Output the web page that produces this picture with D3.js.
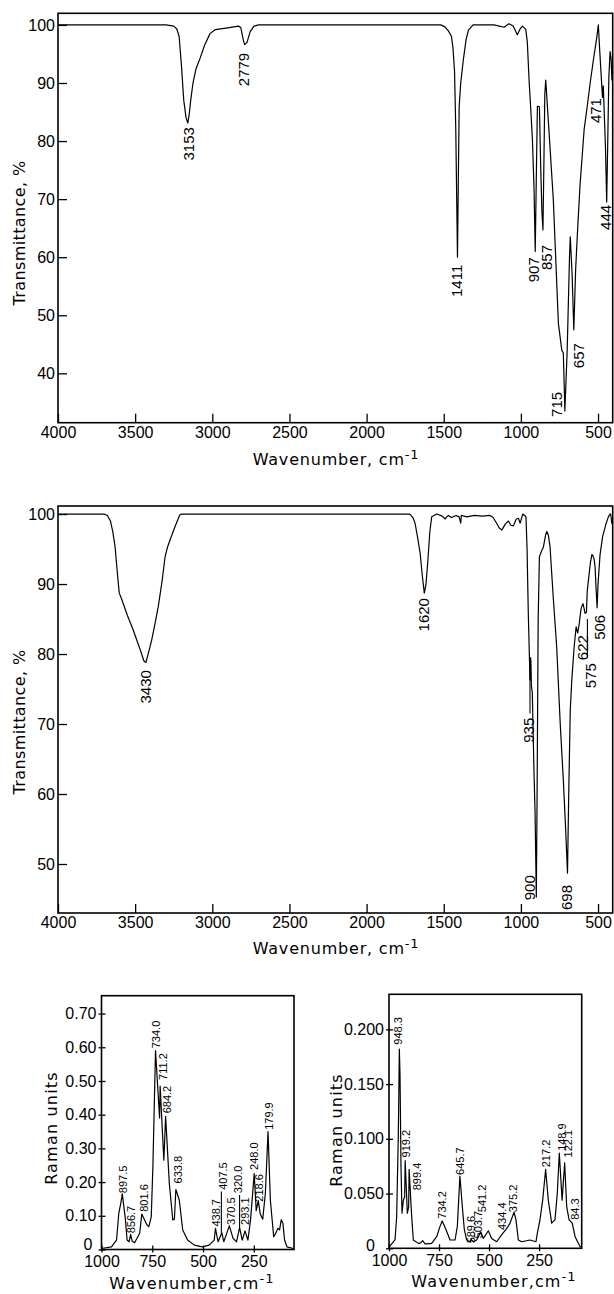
<!DOCTYPE html>
<html><head><meta charset="utf-8">
<script src="https://cdn.jsdelivr.net/npm/d3@7"></script>
<style>body{margin:0;background:#fff}</style>
</head><body>
<script>
// ---------- IR spectrum 1 ----------
const ir1Wn = [4000,3300,3250,3230,3215,3200,3185,3170,3159,3150,3140,3125,3105,3080,3050,3015,2980,2900,2830,2815,2800,2790,2775,2755,2730,2700,
  1520,1495,1470,1450,1440,1430,1422,1416,1411,1406,1400,1390,1373,1355,1340,1310,
  1174,1140,1109,1077,1050,1023,1005,990,975,968,958,947,935,925,915,907,900,893,880,872,864,857,850,845,839,
  790,757,735,725,715,700,685,680,668,657,645,630,616,590,570,551,530,510,498,
  490,478,471,466,460,452,444,437,430,422,415,410,405];
const ir1T = [100,100,99.8,99.3,98,93,87,84,83.1,84.5,87,90,92.5,94.2,96.5,98.5,99.2,99.5,99.8,99.5,97.5,96.6,97,98.8,99.8,100,
  100,99.7,99,98,96,92,82,70,60,72,85.9,90,94,97.5,99.1,100,
  100,99.8,99.6,100.2,99.8,98.3,99.3,99.8,99.4,99.2,96.9,90.5,85,80,72,61,74,86,85.9,76,68,64.7,78,88,90.5,
  70,48.6,44,43.5,33.5,44,60,63.5,57,47.5,58,66,72.7,82,86,90,94,97.5,100,
  96,90.5,87.5,89.5,85,79,69.5,80,91,95.4,94,90.5,92];
const ir1LabelText = ["3153","2779","1411","907","857","715","657","471","444"];
const ir1LabelWn   = [3153,2795,1416,919,832,767,627,513,448];
const ir1LabelTop  = [82.4,95.2,58.7,60.0,62.1,36.8,45.2,87.4,69.0];
const irXTicks = [4000,3500,3000,2500,2000,1500,1000,500];
const ir1YTicks = [40,50,60,70,80,90,100];

// ---------- IR spectrum 2 ----------
const ir2Wn = [4000,3700,3680,3660,3645,3630,3615,3603,3590,3550,3512,3470,3443,3430,3410,3393,3370,3350,3325,3306,3290,3274,3240,3210,3200,
  1720,1700,1686,1668,1653,1638,1626,1615,1604,1590,1578,1545,1510,1490,1481,1470,1450,1420,1400,1390,1386,1350,1300,1250,1200,
  1180,1160,1140,1124,1100,1081,1065,1049,1030,1016,1005,988,975,967,960,952,941,937,935,932,926,915,908,900,
  895,888,880,865,854,840,832,822,811,790,768,745,725,710,698,690,680,670,655,642,632,622,610,598,590,584,575,570,562,550,540,534,525,519,512,506,500,487,470,450,433,422,418,411,405];
const ir2T = [100,100,99.8,99,97.5,95.3,91.5,88.7,88,85.5,83.4,80.8,79,78.8,80.5,82,84.5,86.8,90.5,93.9,95.3,96.3,98.3,99.9,100,
  100,99.5,98.7,96.5,94.4,91,88.7,90,93,97.5,99.6,100,99.7,99.3,99.6,99.8,99.5,99.8,99.6,98.7,99.8,99.6,99.8,99.7,99.8,
  99.5,98.8,98,97.7,98.6,99,98.4,98.3,99.3,99.4,98.7,100,99.8,99.6,95,85.8,76.3,79.5,79,75.5,74.4,63,57.2,45.3,
  60,85,93.9,94.8,95.3,97,97.5,97,95.3,88,81,70,62,55,48.7,60,72,76.3,81,83.9,83,84.3,86.5,87.2,86.5,85.8,86,89,90.6,93,94.2,94.1,93.5,92.4,89,86.6,90,94.2,96.8,98.5,99.6,100,100,98.7,99];
const ir2LabelText = ["3430","1620","935","900","698","622","575","506"];
const ir2LabelWn   = [3430,1632,952,941,703,599,551,491];
const ir2LabelTop  = [77.7,88.0,70.9,48.4,47.0,82.7,78.7,85.6];
const ir2LeaderWn = [941,569];
const ir2LeaderFrom = [79,85];
const ir2LeaderTo = [71.5,79.5];
const ir2YTicks = [50,60,70,80,90,100];

// ---------- Raman spectrum A ----------
const ramAWn = [1000,951,926,915,905,897.5,882,874,864,856.7,849,837,812,801.6,776,767,755,747,734.0,714,711.2,693,684.2,666,649,641,633.8,617,600,576,543,503,470,445,438.7,426,407.5,398,385,370.5,352,335,320,307,293.1,279,266,248,238,228,218,206,193,179.9,168.5,152,142,131,123,115,106.6,98.4,87,55];
const ramAVal = [0.003,0.008,0.028,0.107,0.137,0.165,0.088,0.028,0.023,0.045,0.025,0.02,0.048,0.105,0.073,0.068,0.097,0.245,0.59,0.39,0.485,0.265,0.395,0.196,0.088,0.09,0.178,0.147,0.058,0.028,0.013,0.008,0.013,0.028,0.063,0.023,0.05,0.023,0.045,0.07,0.033,0.023,0.065,0.028,0.055,0.028,0.088,0.225,0.115,0.145,0.105,0.09,0.167,0.35,0.147,0.038,0.048,0.063,0.058,0.088,0.078,0.028,0.008,0.003];
const ramALabelText = ["897.5","856.7","801.6","734.0","711.2","684.2","633.8","438.7","407.5","370.5","320.0","293.1","248.0","218.6","179.9"];
const ramALabelWn   = [893.7,853,791,730.7,698,678.6,624.8,437.4,400,364,328,290.7,246.7,223.9,176.6];
const ramALabelBase = [0.167,0.048,0.112,0.597,0.503,0.404,0.196,0.068,0.177,0.073,0.167,0.073,0.236,0.142,0.355];
const ramALeaderWn = [409.7,320];
const ramALeaderFrom = [0.05,0.065];
const ramALeaderTo = [0.172,0.162];
const ramXTicks = [1000,750,500,250];
const ramAYTicks = [0,0.1,0.2,0.3,0.4,0.5,0.6,0.7];

// ---------- Raman spectrum B ----------
const ramBWn = [1000,970,961.6,953.3,948.3,945,940,935,928.3,921.7,919.2,908.3,901.7,899.4,886.7,878.4,853.4,841.7,832,820,811.7,786.8,761.8,745,734.2,715,695,670,658.5,645.7,633.5,623.5,611.9,595,589.6,578.6,562,541.2,528.6,503.7,487,462,434.4,412,395,375.2,365.4,353.7,337,295.5,265.5,258.8,245.6,232,217.2,203.9,187,170.5,159,148.9,135,122.1,112,100,84.3,70,45,37];
const ramBVal = [0.001,0.0076,0.029,0.105,0.182,0.159,0.074,0.032,0.044,0.047,0.08,0.032,0.038,0.072,0.029,0.0076,0.0045,0.005,0.007,0.004,0.004,0.0045,0.0106,0.02,0.025,0.017,0.0076,0.0076,0.02,0.066,0.038,0.017,0.0076,0.006,0.008,0.006,0.0076,0.015,0.009,0.016,0.009,0.006,0.013,0.018,0.023,0.033,0.026,0.0076,0.006,0.0076,0.006,0.0136,0.026,0.044,0.072,0.044,0.023,0.026,0.05,0.087,0.044,0.078,0.038,0.026,0.023,0.0106,0.0015,0.001];
const ramBLabelText = ["948.3","919.2","899.4","734.2","645.7","589.6","541.2","503.7","434.4","375.2","217.2","148.9","122.1","84.3"];
const ramBLabelWn   = [953.3,915,861.7,733.5,645,592,533.6,557,437,378.7,217.2,137.3,104,70.6];
const ramBLabelBase = [0.186,0.083,0.053,0.027,0.067,0.0045,0.033,0.009,0.0167,0.033,0.074,0.089,0.083,0.026];
const ramBYTicks = [0,0.05,0.1,0.15,0.2];

// ---------- drawing ----------
const NARROW = "'Liberation Sans Narrow', 'Liberation Sans', Arial, sans-serif";
const TITLE = "'DejaVu Sans', sans-serif";
const svg = d3.select("body").append("svg").attr("width",614).attr("height",1294)
  .style("font-family",NARROW);

function panel(o){
  const g = svg.append("g");
  const x = d3.scaleLinear().domain(o.xDomain).range(o.xRange);
  const y = d3.scaleLinear().domain(o.yDomain).range(o.yRange);
  const ax = d3.axisBottom(x).tickValues(o.xTicks).tickSizeInner(-o.tick).tickSizeOuter(0).tickPadding(o.xPad).tickFormat(d3.format("d"));
  const gx = g.append("g").attr("transform",`translate(0,${o.yRange[0]})`).call(ax);
  gx.select(".domain").remove();
  const ay = d3.axisLeft(y).tickValues(o.yTicks).tickSizeInner(-o.tick).tickSizeOuter(0).tickPadding(o.yPad).tickFormat(o.yFmt);
  const gy = g.append("g").attr("transform",`translate(${o.xRange[0]},0)`).call(ay);
  gy.select(".domain").remove();
  if(o.tickOut){
    gx.selectAll(".tick line").attr("y1",o.tickOut);
    gy.selectAll(".tick line").attr("x1",-o.tickOut);
  }
  [gx,gy].forEach(s=>{
    s.selectAll("line").attr("stroke","#000").attr("stroke-width",1.3);
    s.selectAll("text").attr("font-family",NARROW).attr("font-size",o.tickFont).attr("fill","#000");
  });
  if(o.zeroDx!==undefined){
    gy.selectAll(".tick").filter(d=>d===0).select("text")
      .attr("x",-o.yPad-o.zeroDx).attr("dy",(0.32*o.tickFont-o.zeroDy)+"px");
  }
  g.append("rect").attr("x",o.xRange[0]).attr("y",o.yRange[1])
    .attr("width",o.xRange[1]-o.xRange[0]).attr("height",o.yRange[0]-o.yRange[1])
    .attr("fill","none").attr("stroke","#000").attr("stroke-width",1.6);
  const line = d3.line().x(d=>x(d[0])).y(d=>y(d[1]));
  g.append("path").datum(d3.zip(o.wn,o.val)).attr("d",line)
    .attr("fill","none").attr("stroke","#000").attr("stroke-width",1.2).attr("stroke-linejoin","round");
  // peak labels
  o.labText.forEach((t,i)=>{
    g.append("text").attr("transform",`translate(${x(o.labWn[i])},${y(o.labPos[i])}) rotate(-90)`)
      .attr("text-anchor",o.labAnchor).attr("dy","0.36em").attr("font-family",NARROW)
      .attr("font-size",o.labFont).attr("fill","#000").text(t);
  });
  if(o.leadWn){
    o.leadWn.forEach((w,i)=>{
      g.append("line").attr("x1",x(w)).attr("x2",x(w)).attr("y1",y(o.leadFrom[i])).attr("y2",y(o.leadTo[i]))
        .attr("stroke","#000").attr("stroke-width",1.1);
    });
  }
  // axis titles
  const xt = g.append("text").attr("x",o.xTitle[0]).attr("y",o.xTitle[1]).attr("text-anchor","middle")
    .attr("font-family",TITLE).attr("font-size",o.titleFont).attr("letter-spacing",o.titleLS).attr("fill","#000");
  xt.append("tspan").text(o.xTitleText);
  xt.append("tspan").attr("dy",-6).attr("font-size",o.titleFont-3).text("-1");
  g.append("text").attr("transform",`translate(${o.yTitle[0]},${o.yTitle[1]}) rotate(-90)`).attr("text-anchor","middle")
    .attr("font-family",TITLE).attr("font-size",o.titleFont).attr("letter-spacing",o.yTitleLS).attr("fill","#000")
    .text(o.yTitleText);
}

panel({xDomain:[4000,405],xRange:[58,612.7],yDomain:[31.5,102],yRange:[422.7,13.3],
  xTicks:irXTicks,yTicks:ir1YTicks,yFmt:d3.format("d"),tick:9,xPad:4,yPad:3,tickFont:16,
  wn:ir1Wn,val:ir1T,labText:ir1LabelText,labWn:ir1LabelWn,labPos:ir1LabelTop,labAnchor:"end",labFont:15,
  xTitle:[336,465],xTitleText:"Wavenumber, cm",yTitle:[25,233],yTitleText:"Transmittance, %",titleFont:16,titleLS:0.8,yTitleLS:0.4});

panel({xDomain:[4000,405],xRange:[58,612.7],yDomain:[43,101.15],yRange:[913,506],
  xTicks:irXTicks,yTicks:ir2YTicks,yFmt:d3.format("d"),tick:9,xPad:4,yPad:3,tickFont:16,
  wn:ir2Wn,val:ir2T,labText:ir2LabelText,labWn:ir2LabelWn,labPos:ir2LabelTop,labAnchor:"end",labFont:15,
  leadWn:ir2LeaderWn,leadFrom:ir2LeaderFrom,leadTo:ir2LeaderTo,
  xTitle:[336,954],xTitleText:"Wavenumber, cm",yTitle:[25,722],yTitleText:"Transmittance, %",titleFont:16,titleLS:0.8,yTitleLS:0.4});

panel({xDomain:[1000,52],xRange:[101.5,294],yDomain:[0,0.753],yRange:[1249.5,995.7],
  xTicks:ramXTicks,yTicks:ramAYTicks,yFmt:d=>d===0?"0":d3.format(".2f")(d),tick:4,tickOut:3,xPad:6,yPad:5,tickFont:16,
  zeroDx:4,zeroDy:5,
  wn:ramAWn,val:ramAVal,labText:ramALabelText,labWn:ramALabelWn,labPos:ramALabelBase,labAnchor:"start",labFont:11,
  leadWn:ramALeaderWn,leadFrom:ramALeaderFrom,leadTo:ramALeaderTo,
  xTitle:[192,1289],xTitleText:"Wavenumber,cm",yTitle:[57,1128],yTitleText:"Raman units",titleFont:16,titleLS:1.1,yTitleLS:1.2});

panel({xDomain:[1000,37],xRange:[389,581.7],yDomain:[0,0.232],yRange:[1248.3,994.3],
  xTicks:ramXTicks,yTicks:ramBYTicks,yFmt:d=>d===0?"0":d3.format(".3f")(d),tick:4,tickOut:3,xPad:6,yPad:5,tickFont:16,
  zeroDx:9,zeroDy:3,
  wn:ramBWn,val:ramBVal,labText:ramBLabelText,labWn:ramBLabelWn,labPos:ramBLabelBase,labAnchor:"start",labFont:11,
  xTitle:[494,1287],xTitleText:"Wavenumber,cm",yTitle:[342,1130],yTitleText:"Raman units",titleFont:16,titleLS:1.1,yTitleLS:1.2});
</script>
</body></html>
